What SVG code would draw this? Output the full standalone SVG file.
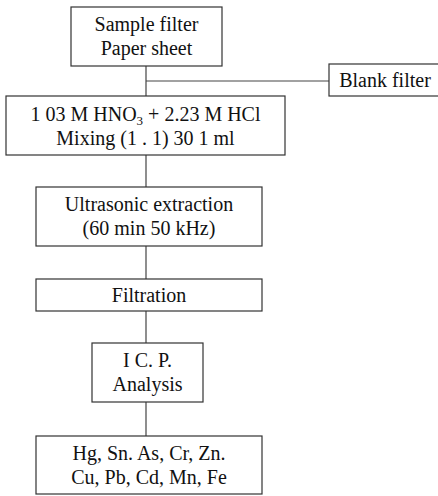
<svg xmlns="http://www.w3.org/2000/svg" width="438" height="496" viewBox="0 0 438 496">
<style>
.box{fill:#fff;stroke:#333;stroke-width:1.2}
.c{fill:none;stroke:#444;stroke-width:1.2}
text{font-family:"Liberation Serif","Times New Roman",serif;font-size:20px;fill:#111;text-anchor:middle}
</style>
<rect width="438" height="496" fill="#fff"/>
<g id="connectors">
<line class="c" x1="146" y1="66" x2="146" y2="96"/>
<line class="c" x1="146" y1="81" x2="329" y2="81"/>
<line class="c" x1="146" y1="155" x2="146" y2="187"/>
<line class="c" x1="146" y1="246" x2="146" y2="279"/>
<line class="c" x1="146" y1="311" x2="146" y2="343"/>
<line class="c" x1="146" y1="402" x2="146" y2="436"/>
</g>
<g id="sample">
<rect class="box" x="71" y="7" width="151" height="59"/>
<text x="146.5" y="31">Sample filter</text>
<text x="146.5" y="55">Paper sheet</text>
</g>
<g id="blank">
<rect class="box" x="329" y="64" width="112" height="32"/>
<text x="385" y="87">Blank filter</text>
</g>
<g id="acid">
<rect class="box" x="6" y="96" width="279" height="59"/>
<text x="145.5" y="121">1 03 M HNO<tspan font-size="13" dy="4">3</tspan><tspan dy="-4"> + 2.23 M HCl</tspan></text>
<text x="145.5" y="145">Mixing (1 . 1) 30 1 ml</text>
</g>
<g id="ultrasonic">
<rect class="box" x="36" y="187" width="226" height="59"/>
<text x="149" y="211">Ultrasonic extraction</text>
<text x="149" y="235">(60 min 50 kHz)</text>
</g>
<g id="filtration">
<rect class="box" x="36" y="279" width="226" height="32"/>
<text x="149" y="302">Filtration</text>
</g>
<g id="icp">
<rect class="box" x="92" y="343" width="111" height="59"/>
<text x="147.5" y="367">I C. P.</text>
<text x="147.5" y="391">Analysis</text>
</g>
<g id="elements">
<rect class="box" x="36" y="436" width="226" height="58"/>
<text x="149" y="460">Hg, Sn. As, Cr, Zn.</text>
<text x="149" y="484">Cu, Pb, Cd, Mn, Fe</text>
</g>
</svg>
